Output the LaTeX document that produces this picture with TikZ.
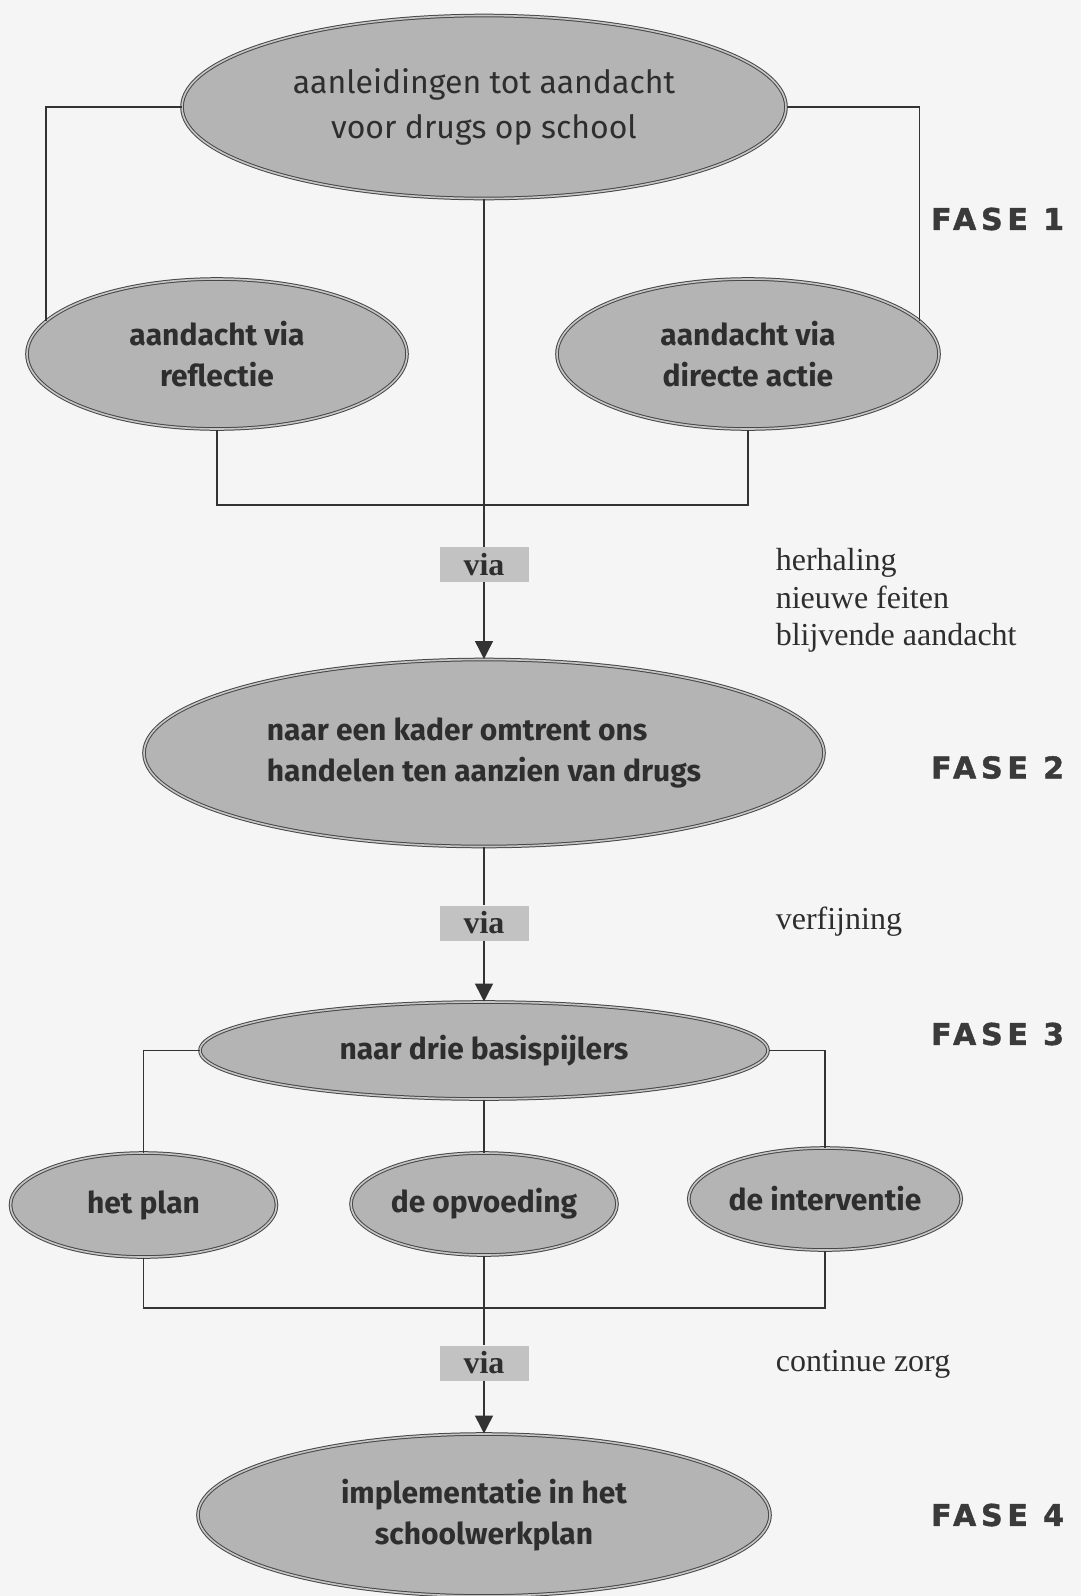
\documentclass[tikz,border=0pt]{standalone}
\usepackage{fontspec}
\setmainfont{Liberation Serif}
\newfontfamily\comicf{Fira Sans}
\newfontfamily\fasef[LetterSpace=16,FakeBold=1.5]{DejaVu Sans Bold}
\usetikzlibrary{shapes.geometric,arrows.meta}
\definecolor{bgc}{HTML}{F5F5F5}
\definecolor{fillc}{HTML}{B4B4B4}
\definecolor{edgec}{HTML}{474747}
\definecolor{ringc}{HTML}{C6C6C6}
\definecolor{txtc}{HTML}{2E2E2E}
\definecolor{viafill}{HTML}{C2C2C2}
\definecolor{linec}{HTML}{333333}
\definecolor{fasec}{HTML}{3A3A3A}
\begin{document}
\begin{tikzpicture}[x=1pt,y=-1pt,
  ell/.style={ellipse, draw=edgec, line width=1pt, double=ringc, double distance=1.6pt,
    fill=fillc, inner sep=0pt, text=txtc, align=center,
    font=\comicf\bfseries\fontsize{30}{41}\selectfont},
  viabox/.style={fill=viafill, minimum width=89pt, minimum height=35pt, inner sep=0pt,
    text=txtc, font=\bfseries\fontsize{32}{36}\selectfont},
  conn/.style={draw=linec, line width=1.4pt},
  arr/.style={conn, -{Triangle[width=18pt,length=18pt]}},
  side/.style={anchor=west, align=left, text=txtc, inner sep=0pt,
    font=\fontsize{32}{37.6}\selectfont},
  fase/.style={anchor=west, inner sep=0pt, text=fasec,
    font=\fasef\fontsize{30}{32}\selectfont}]
\useasboundingbox[fill=bgc] (0,0) rectangle (1081,1596);
% ellipses
\node[ell, minimum width=604pt, minimum height=183pt,
  font=\comicf\fontsize{32}{45}\selectfont] (top) at (484,107) {aanleidingen tot aandacht\\voor drugs op school};
\node[ell, minimum width=380pt, minimum height=150pt] (refl) at (217,354) {aandacht via\\reflectie};
\node[ell, minimum width=382pt, minimum height=150pt] (dir) at (748,354) {aandacht via\\directe actie};
\node[viabox] (via1) at (484,564.5) {via};
\node[ell, minimum width=680pt, minimum height=187pt, align=left] (kader) at (484,753) {naar een kader omtrent ons\\handelen ten aanzien van drugs};
\node[viabox] (via2) at (484,923) {via};
\node[ell, minimum width=568pt, minimum height=97pt] (drie) at (484,1050.5) {naar drie basispijlers};
\node[ell, minimum width=266pt, minimum height=104pt] (plan) at (143.5,1205) {het plan};
\node[ell, minimum width=266pt, minimum height=102pt] (opv) at (484,1204) {de opvoeding};
\node[ell, minimum width=266pt, minimum height=102pt] (interv) at (825,1199) {de interventie};
\node[viabox] (via3) at (484,1363) {via};
\node[ell, minimum width=572pt, minimum height=162pt] (impl) at (484,1515) {implementatie in het\\schoolwerkplan};
% connectors
\coordinate (j1) at (484,505);
\coordinate (j2) at (484,1308);
\draw[conn] (top.west) -| (refl.169);
\draw[conn] (top.east) -| (dir.11);
\draw[conn] (refl.south) |- (j1) -| (dir.south);
\draw[conn] (top.south) -- (via1.north);
\draw[arr] (via1.south) -- (kader.north);
\draw[conn] (kader.south) -- (via2.north);
\draw[arr] (via2.south) -- (drie.north);
\draw[conn] (drie.west) -| (plan.north);
\draw[conn] (drie.east) -| (interv.north);
\draw[conn] (drie.south) -- (opv.north);
\draw[conn] (plan.south) |- (j2) -| (interv.south);
\draw[conn] (opv.south) -- (via3.north);
\draw[arr] (via3.south) -- (impl.north);
% side texts
\node[side] (t1) at (775.6,600.6) {herhaling\\nieuwe feiten\\blijvende aandacht};
\node[side] (t2) at (775.6,922) {verfijning};
\node[side] (t3) at (775.6,1364) {continue zorg};
\node[fase] (f1) at (931,219) {FASE 1};
\node[fase] (f2) at (931,767.5) {FASE 2};
\node[fase] (f3) at (931,1034) {FASE 3};
\node[fase] (f4) at (931,1515) {FASE 4};
\end{tikzpicture}
\end{document}
